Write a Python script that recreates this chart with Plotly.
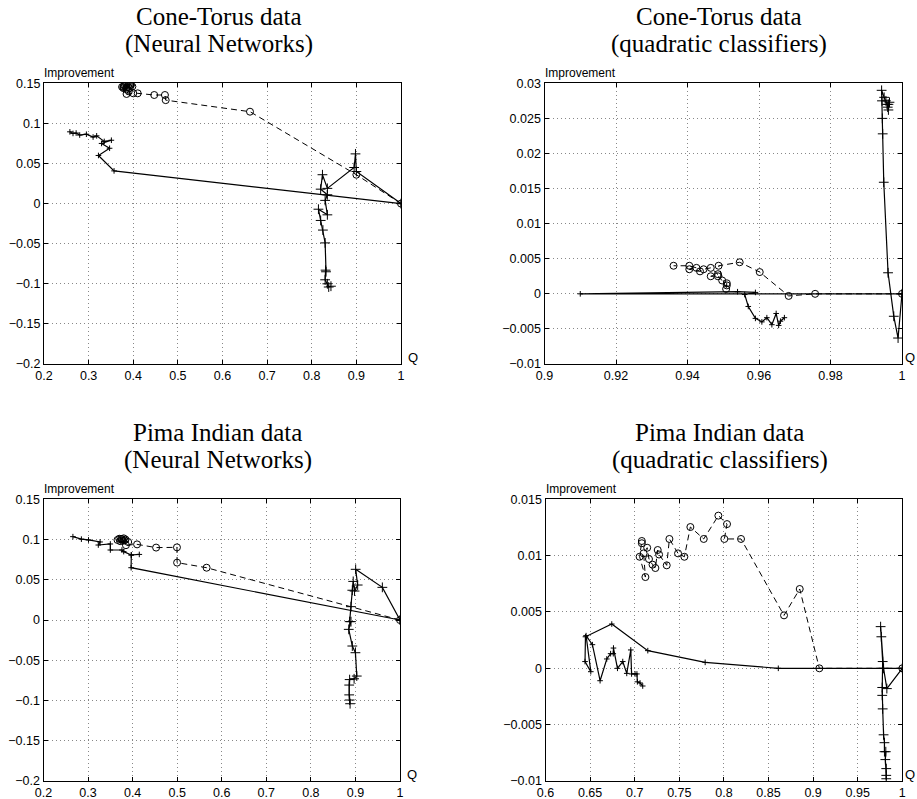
import plotly.graph_objects as go

# ---------------- data ----------------
# Panel 1: Cone-Torus data, Neural Networks
ct_nn_circ_q = [1.0, 0.9, 0.6616, 0.4727, 0.471, 0.447, 0.41, 0.40, 0.385, 0.39, 0.385, 0.378,
                0.375, 0.38, 0.385, 0.39, 0.395, 0.398, 0.392, 0.388, 0.382, 0.378, 0.385, 0.393]
ct_nn_circ_imp = [0.0, 0.036, 0.1146, 0.129, 0.1354, 0.1354, 0.1375, 0.1375, 0.1367, 0.140, 0.1425, 0.144,
                  0.1455, 0.147, 0.1485, 0.149, 0.148, 0.146, 0.144, 0.146, 0.1475, 0.146, 0.1445, 0.1475]
ct_nn_sol_q = [1.0, 0.357, 0.322, 0.347, 0.329, 0.351, 0.335, 0.318, 0.31, 0.295, 0.28, 0.272, 0.265, 0.258]
ct_nn_sol_imp = [0.0, 0.0408, 0.060, 0.069, 0.075, 0.079, 0.0775, 0.0845, 0.083, 0.0865, 0.0855, 0.088, 0.0875, 0.0895]
ct_nn_plus_q = [1.0, 0.90, 0.898, 0.895, 0.835, 0.824, 0.82, 0.835, 0.83, 0.835, 0.815, 0.82, 0.825,
                0.83, 0.832, 0.831, 0.83, 0.835, 0.838, 0.843]
ct_nn_plus_imp = [0.0, 0.040, 0.062, 0.045, 0.019, 0.036, 0.018, 0.011, 0.004, -0.014, -0.007, -0.021, -0.033,
                  -0.049, -0.085, -0.083, -0.095, -0.100, -0.104, -0.103]

# Panel 2: Cone-Torus data, quadratic classifiers
ct_qc_circ_q = [1.0, 0.9757, 0.9683, 0.9602, 0.9546, 0.9487, 0.9508, 0.951, 0.951, 0.9497, 0.9485, 0.9465,
                0.9485, 0.9465, 0.9445, 0.9435, 0.9405, 0.9425, 0.9405, 0.9361]
ct_qc_circ_imp = [0.0, 0.0, -0.0003, 0.0031, 0.0045, 0.0040, 0.0007, 0.0012, 0.0015, 0.0019, 0.0025, 0.0025,
                  0.0028, 0.0037, 0.0035, 0.0032, 0.0035, 0.0037, 0.0040, 0.0040]
ct_qc_sol_q = [1.0, 0.91, 0.954, 0.959, 0.956, 0.957, 0.959, 0.9608, 0.9622, 0.9636, 0.9648, 0.9655, 0.966, 0.9671]
ct_qc_sol_imp = [0.0, 0.0, 0.0003, 0.0002, -0.0001, -0.0018, -0.0035, -0.0040, -0.0034, -0.0044, -0.0028,
                 -0.0045, -0.0039, -0.0034]
ct_qc_plus_q = [1.0, 0.9989, 0.9977, 0.9961, 0.9949, 0.9946, 0.9945, 0.9944, 0.9943, 0.9950, 0.9955, 0.9958,
                0.9960, 0.9962, 0.9965, 0.9962]
ct_qc_plus_imp = [0.0, -0.0063, -0.0032, 0.0030, 0.0159, 0.0228, 0.0250, 0.0275, 0.0290, 0.0280, 0.0275,
                  0.0270, 0.0266, 0.0270, 0.0273, 0.0262]

# Panel 3: Pima Indian data, Neural Networks
pi_nn_circ_q = [1.0, 0.566, 0.4998, 0.4995, 0.4527, 0.41, 0.385, 0.39, 0.382, 0.376, 0.370, 0.366,
                0.372, 0.378, 0.384, 0.380, 0.374]
pi_nn_circ_imp = [0.0, 0.065, 0.0713, 0.0903, 0.090, 0.094, 0.093, 0.097, 0.099, 0.1005, 0.101, 0.0995,
                  0.098, 0.0985, 0.100, 0.1015, 0.1008]
pi_nn_sol_q = [1.0, 0.3966, 0.397, 0.415, 0.397, 0.38, 0.376, 0.35, 0.35, 0.323, 0.327, 0.301, 0.285, 0.266]
pi_nn_sol_imp = [0.0, 0.065, 0.0808, 0.0815, 0.0808, 0.085, 0.087, 0.087, 0.0945, 0.0932, 0.097, 0.0995,
                 0.1005, 0.1036]
pi_nn_plus_q = [1.0, 0.9604, 0.9005, 0.905, 0.898, 0.895, 0.893, 0.89, 0.887, 0.89, 0.885, 0.893, 0.90,
                0.903, 0.897, 0.887, 0.886, 0.886, 0.887, 0.888]
pi_nn_plus_imp = [0.0, 0.0406, 0.063, 0.0435, 0.036, 0.048, 0.037, 0.0166, -0.002, -0.002, -0.0116, -0.0323,
                  -0.0406, -0.0696, -0.073, -0.074, -0.0808, -0.093, -0.0994, -0.104]

# Panel 4: Pima Indian data, quadratic classifiers
pi_qc_circ_q = [1.0, 0.907, 0.885, 0.8674, 0.8192, 0.8005, 0.8035, 0.7938, 0.7774, 0.7624, 0.7557, 0.7486,
                0.7389, 0.7359, 0.7273, 0.7258, 0.7232, 0.720, 0.716, 0.714, 0.710, 0.712, 0.7055, 0.708, 0.708]
pi_qc_circ_imp = [0.0, 0.0, 0.00704, 0.0047, 0.01148, 0.01148, 0.0128, 0.01355, 0.01148, 0.01254, 0.0099,
                  0.0102, 0.01148, 0.00914, 0.0101, 0.0105, 0.0089, 0.0092, 0.0097, 0.0107, 0.0102, 0.0081,
                  0.0099, 0.0111, 0.0113]
pi_qc_sol_q = [1.0, 0.861, 0.779, 0.7147, 0.6743, 0.6448, 0.6443, 0.6508, 0.6455, 0.6526, 0.6612, 0.6687,
               0.673, 0.676, 0.6762, 0.6807, 0.6866, 0.6911, 0.6956, 0.6965, 0.7004, 0.7025, 0.703, 0.706, 0.709]
pi_qc_sol_imp = [0.0, 0.0, 0.00053, 0.00157, 0.00393, 0.0028, 0.0006, -0.0003, 0.0029, 0.0021, -0.0011, 0.00083,
                 0.0013, 0.0013, 0.0018, 0.0, 0.0006, -0.00045, 0.00163, -0.0005, -0.0005, -0.0005, -0.0012,
                 -0.0013, -0.00157]
pi_qc_plus_q = [1.0, 0.9827, 0.979, 0.9757, 0.9765, 0.978, 0.9775, 0.9775, 0.978, 0.979, 0.980, 0.980,
                0.9815, 0.981, 0.982, 0.982, 0.982]
pi_qc_plus_imp = [0.0, -0.0018, 0.0, 0.0037, 0.0028, 0.0006, -0.0017, -0.0024, -0.0036, -0.0059, -0.0066,
                  -0.0074, -0.0074, -0.0081, -0.0089, -0.0095, -0.0098]

# Ticks
x_ticks_nn = [0.2, 0.3, 0.4, 0.5, 0.6, 0.7, 0.8, 0.9, 1.0]
x_labels_nn = ["0.2", "0.3", "0.4", "0.5", "0.6", "0.7", "0.8", "0.9", "1"]
y_ticks_nn = [-0.2, -0.15, -0.1, -0.05, 0, 0.05, 0.1, 0.15]
y_labels_nn = ["\u22120.2", "\u22120.15", "\u22120.1", "\u22120.05", "0", "0.05", "0.1", "0.15"]
x_ticks_ctqc = [0.9, 0.92, 0.94, 0.96, 0.98, 1.0]
x_labels_ctqc = ["0.9", "0.92", "0.94", "0.96", "0.98", "1"]
y_ticks_ctqc = [-0.01, -0.005, 0, 0.005, 0.01, 0.015, 0.02, 0.025, 0.03]
y_labels_ctqc = ["\u22120.01", "\u22120.005", "0", "0.005", "0.01", "0.015", "0.02", "0.025", "0.03"]
x_ticks_piqc = [0.6, 0.65, 0.7, 0.75, 0.8, 0.85, 0.9, 0.95, 1.0]
x_labels_piqc = ["0.6", "0.65", "0.7", "0.75", "0.8", "0.85", "0.9", "0.95", "1"]
y_ticks_piqc = [-0.01, -0.005, 0, 0.005, 0.01, 0.015]
y_labels_piqc = ["\u22120.01", "\u22120.005", "0", "0.005", "0.01", "0.015"]

titles = [("Cone-Torus data", "(Neural Networks)"),
          ("Cone-Torus data", "(quadratic classifiers)"),
          ("Pima Indian data", "(Neural Networks)"),
          ("Pima Indian data", "(quadratic classifiers)")]

# ---------------- figure ----------------
W, H = 917, 799
fig = go.Figure()

panels = [
    (ct_nn_circ_q, ct_nn_circ_imp, ct_nn_sol_q, ct_nn_sol_imp, ct_nn_plus_q, ct_nn_plus_imp),
    (ct_qc_circ_q, ct_qc_circ_imp, ct_qc_sol_q, ct_qc_sol_imp, ct_qc_plus_q, ct_qc_plus_imp),
    (pi_nn_circ_q, pi_nn_circ_imp, pi_nn_sol_q, pi_nn_sol_imp, pi_nn_plus_q, pi_nn_plus_imp),
    (pi_qc_circ_q, pi_qc_circ_imp, pi_qc_sol_q, pi_qc_sol_imp, pi_qc_plus_q, pi_qc_plus_imp),
]

for i, (cq, ci, sq, si, pq, pi) in enumerate(panels):
    xa = "x" if i == 0 else f"x{i+1}"
    ya = "y" if i == 0 else f"y{i+1}"
    fig.add_trace(go.Scatter(x=sq, y=si, xaxis=xa, yaxis=ya, mode="lines+markers",
                             line=dict(color="black", width=1.2),
                             marker=dict(symbol="cross-thin", size=4, line=dict(color="black", width=1))))
    fig.add_trace(go.Scatter(x=pq, y=pi, xaxis=xa, yaxis=ya, mode="lines+markers",
                             line=dict(color="black", width=1.2),
                             marker=dict(symbol="cross-thin", size=7, line=dict(color="black", width=1))))
    fig.add_trace(go.Scatter(x=cq, y=ci, xaxis=xa, yaxis=ya, mode="lines+markers",
                             line=dict(color="black", width=1, dash="6px,4px"),
                             marker=dict(symbol="circle-open", size=7, color="black",
                                         line=dict(color="black", width=1))))

# pixel boxes of the four axes: (left, right, top, bottom)
boxes = [(44, 401, 83.3, 364), (544.5, 902, 83.3, 364),
         (43.5, 400, 499.3, 781), (545.5, 902.3, 499.3, 781)]
xr = [[0.2, 1.0], [0.9, 1.0], [0.2, 1.0], [0.6, 1.0]]
yr = [[-0.2, 0.15], [-0.01, 0.03], [-0.2, 0.15], [-0.01, 0.015]]
xt = [(x_ticks_nn, x_labels_nn), (x_ticks_ctqc, x_labels_ctqc), (x_ticks_nn, x_labels_nn), (x_ticks_piqc, x_labels_piqc)]
yt = [(y_ticks_nn, y_labels_nn), (y_ticks_ctqc, y_labels_ctqc), (y_ticks_nn, y_labels_nn), (y_ticks_piqc, y_labels_piqc)]

tickfont = dict(family="Liberation Sans, Arial, sans-serif", size=12.5, color="black")
common = dict(showgrid=True, gridcolor="#888888", griddash="1px,3px", gridwidth=1,
              showline=True, linecolor="black", linewidth=1.2, mirror="ticks",
              ticks="inside", ticklen=4, tickcolor="black", tickwidth=1,
              zeroline=False, tickfont=tickfont, fixedrange=True, automargin=False)

layout = dict(width=W, height=H, margin=dict(l=0, r=0, t=0, b=0, autoexpand=False),
              paper_bgcolor="white", plot_bgcolor="white", showlegend=False)
annotations = []
for i, (l, r, t, b) in enumerate(boxes):
    xn = "xaxis" if i == 0 else f"xaxis{i+1}"
    yn = "yaxis" if i == 0 else f"yaxis{i+1}"
    xa = "x" if i == 0 else f"x{i+1}"
    ya = "y" if i == 0 else f"y{i+1}"
    layout[xn] = dict(domain=[l / W, r / W], range=xr[i], anchor=ya,
                      tickvals=xt[i][0], ticktext=xt[i][1], **common)
    layout[yn] = dict(domain=[1 - b / H, 1 - t / H], range=yr[i], anchor=xa,
                      tickvals=yt[i][0], ticktext=yt[i][1], **common)
    cx = (l + r) / 2 - 4
    annotations.append(dict(text=titles[i][0], x=cx / W, y=1 - (t - 67) / H, xref="paper", yref="paper",
                            xanchor="center", yanchor="middle", showarrow=False,
                            font=dict(family="Liberation Serif, serif", size=25, color="black")))
    annotations.append(dict(text=titles[i][1], x=cx / W, y=1 - (t - 39) / H, xref="paper", yref="paper",
                            xanchor="center", yanchor="middle", showarrow=False,
                            font=dict(family="Liberation Serif, serif", size=25, color="black")))
    annotations.append(dict(text="Improvement", x=(l - 2) / W, y=1 - (t - 10.5) / H, xref="paper", yref="paper",
                            xanchor="left", yanchor="middle", showarrow=False,
                            font=dict(family="Liberation Sans, Arial, sans-serif", size=12, color="black")))
    qx = min(r + 11.5, W - 7)
    annotations.append(dict(text="Q", x=qx / W, y=1 - (b - 6.5) / H, xref="paper", yref="paper",
                            xanchor="center", yanchor="middle", showarrow=False,
                            font=dict(family="Liberation Sans, Arial, sans-serif", size=13, color="black")))

layout["annotations"] = annotations
fig.update_layout(**layout)
fig.write_html("out.html", config={"displayModeBar": False},
               post_script="document.body.style.margin='0';document.body.style.padding='0';"
                           "document.body.style.overflow='hidden';")
